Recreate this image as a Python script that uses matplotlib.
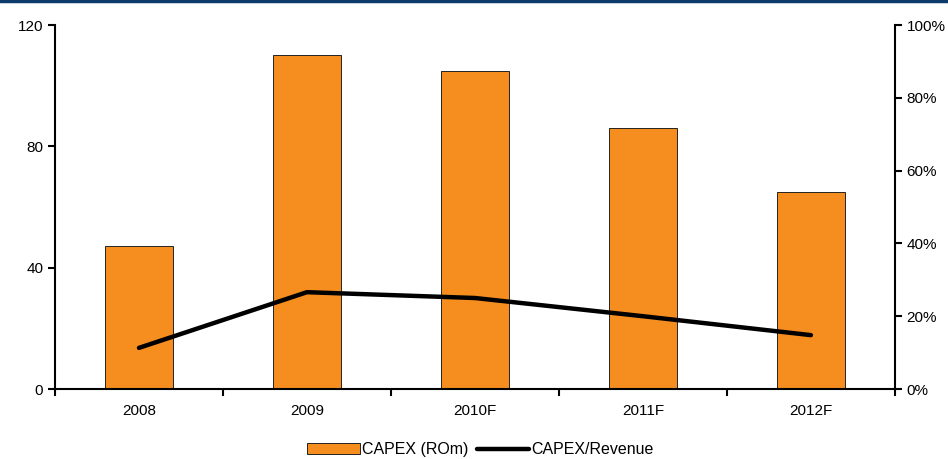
import matplotlib
matplotlib.use("Agg")
import matplotlib.pyplot as plt
import numpy as np
from matplotlib.lines import Line2D
from matplotlib.ticker import FuncFormatter

years = ["2008", "2009", "2010F", "2011F", "2012F"]
capex = [47, 110, 105, 86, 65]
capex_to_revenue = [11.3, 26.6, 25.0, 20.0, 14.8]

plt.rcParams['font.family'] = ['Liberation Sans', 'DejaVu Sans']
plt.rcParams['font.size'] = 11

fig = plt.figure(figsize=(9.48, 4.59), dpi=100)
ax = fig.add_axes([0.058, 0.1525, 0.886, 0.793])

xpos = np.arange(len(years))

# bars for capex on the left axis
ax.bar(xpos, capex, width=0.4, color='#f68e1f', edgecolor='#222222', linewidth=0.7,
       label='CAPEX (ROm)', zorder=2)
ax.set_xlim(-0.5, len(years) - 0.5)
ax.set_ylim(0, 120)
ax.set_yticks([0, 40, 80, 120])
ax.set_xticks(xpos)
ax.set_xticklabels(years)
ax.set_xticks(np.arange(-0.5, len(years)), minor=True)
ax.tick_params(axis='x', which='major', length=0, pad=11)
ax.tick_params(axis='x', which='minor', length=5, width=1.5, direction='out')
ax.tick_params(axis='y', length=5, width=1.5, direction='out')

for side in ['top', 'right']:
    ax.spines[side].set_visible(False)
for side in ['left', 'bottom']:
    ax.spines[side].set_linewidth(1.5)

# ratio line on the right axis
ax2 = ax.twinx()
ax2.plot(xpos, capex_to_revenue, color='black', linewidth=3.2, label='CAPEX/Revenue',
         solid_capstyle='round', zorder=3)
ax2.set_ylim(0, 100)
ax2.set_yticks([0, 20, 40, 60, 80, 100])
ax2.yaxis.set_major_formatter(FuncFormatter(lambda v, p: '%d%%' % v))
ax2.tick_params(axis='y', length=5, width=1.5, direction='out')
for side in ['top', 'left', 'bottom']:
    ax2.spines[side].set_visible(False)
ax2.spines['right'].set_linewidth(1.5)

# legend below the plot
h1, l1 = ax.get_legend_handles_labels()
h2, l2 = ax2.get_legend_handles_labels()
fig.legend(h1 + h2, l1 + l2, loc='center', bbox_to_anchor=(0.507, 0.02), ncol=2,
           frameon=False, handlelength=3.3, handletextpad=0.15, columnspacing=0.5,
           fontsize=11.5, borderpad=0.1)

# dark rule along the top edge
fig.add_artist(Line2D([0, 1], [0.997, 0.997], color='#0b3a6b', linewidth=2.5,
                      transform=fig.transFigure))

fig.savefig("out.png", dpi=100)
